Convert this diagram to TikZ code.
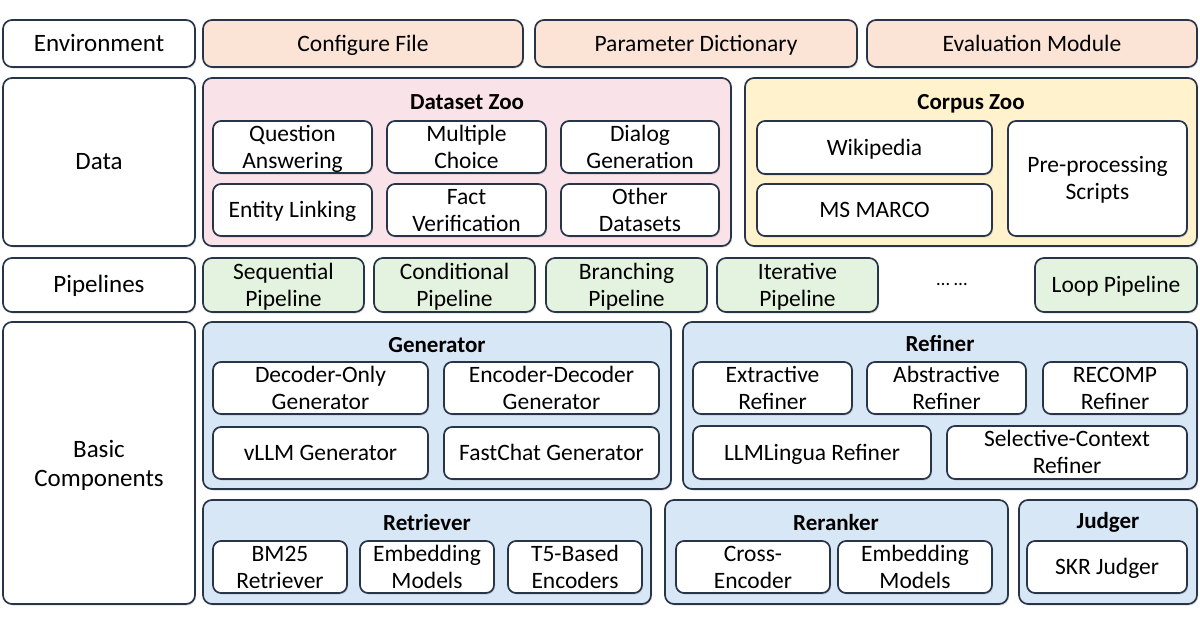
\documentclass[tikz,border=0pt]{standalone}
\usepackage{fontspec}
\setmainfont{Carlito}
\usetikzlibrary{shadows}
\definecolor{edgeclr}{RGB}{40,52,72}
\definecolor{envclr}{RGB}{251,227,214}
\definecolor{dsclr}{RGB}{250,226,233}
\definecolor{cpclr}{RGB}{255,242,204}
\definecolor{pipeclr}{RGB}{228,243,224}
\definecolor{compclr}{RGB}{216,231,246}

% one box from its top left to its bottom right corner
\newcommand{\blk}[7]{\node[#2, minimum width={#5-#3}, minimum height={#6-#4}]
	(#1) at ({(#3+#5)/2},{(#4+#6)/2}) {#7};}

\begin{document}
\begin{tikzpicture}[
		x=1pt, y=-1pt,
		every node/.style={font=\fontsize{23.5}{27}\selectfont, align=center, inner sep=0pt,
			text height=15pt, text depth=0pt},
		two/.style={text height=42pt},
		box/.style={draw=edgeclr, line width=1.7pt, rounded corners=9pt,
			drop shadow={shadow xshift=1.2pt, shadow yshift=-1.5pt, opacity=0.25}},
		side/.style={box, fill=white, font=\fontsize{25}{29}\selectfont},
		envitem/.style={box, fill=envclr},
		dszoo/.style={box, fill=dsclr},
		cpzoo/.style={box, fill=cpclr},
		pipeitem/.style={box, fill=pipeclr},
		comp/.style={box, fill=compclr},
		cell/.style={box, fill=white, rounded corners=8pt, drop shadow={opacity=0}},
		ttl/.style={font=\fontsize{23}{27}\selectfont\bfseries}
		]
		\useasboundingbox (0,0) rectangle (1200,630);
		% environment
		\blk{env}{side}{3}{20}{195}{67}{Environment}
		\blk{cfg}{envitem}{203}{20}{523}{67}{Configure File}
		\blk{par}{envitem}{535}{20}{857}{67}{Parameter Dictionary}
		\blk{eval}{envitem}{867}{20}{1197}{67}{Evaluation Module}
		% data
		\blk{data}{side}{3}{78}{195}{246}{Data}
		\blk{dz}{dszoo}{203}{78}{731}{246}{}
		\node[ttl] (dz-t) at (467,102) {Dataset Zoo};
		\blk{qa}{cell,two}{213}{121}{372}{173}{Question\\Answering}
		\blk{mc}{cell,two}{387}{121}{546}{173}{Multiple\\Choice}
		\blk{dg}{cell,two}{561}{121}{719}{173}{Dialog\\Generation}
		\blk{el}{cell}{213}{184}{372}{236}{Entity Linking}
		\blk{fv}{cell,two}{387}{184}{546}{236}{Fact\\Verification}
		\blk{od}{cell,two}{561}{184}{719}{236}{Other\\Datasets}
		\blk{cz}{cpzoo}{745}{78}{1197}{246}{}
		\node[ttl] (cz-t) at (971,102) {Corpus Zoo};
		\blk{wiki}{cell}{757}{121}{992}{174}{Wikipedia}
		\blk{msm}{cell}{757}{184}{992}{236}{MS MARCO}
		\blk{pre}{cell,two}{1008}{121}{1187}{236}{Pre-processing\\Scripts}
		% pipelines
		\blk{pipe}{side}{3}{258}{195}{312}{Pipelines}
		\blk{seq}{pipeitem,two}{203}{258}{364}{312}{Sequential\\Pipeline}
		\blk{cond}{pipeitem,two}{374}{258}{535}{312}{Conditional\\Pipeline}
		\blk{br}{pipeitem,two}{546}{258}{707}{312}{Branching\\Pipeline}
		\blk{it}{pipeitem,two}{717}{258}{878}{312}{Iterative\\Pipeline}
		\node[font=\fontsize{19}{22}\selectfont, text height=3pt] (dots) at (952,284) {\ldots\ \ldots};
		\blk{loop}{pipeitem}{1035}{258}{1197}{312}{Loop Pipeline}
		% basic components
		\blk{basic}{side}{3}{322}{195}{604}{}
		\node[font=\fontsize{25}{29}\selectfont, text height=46pt] (basic-t) at (99,463) {Basic\\Components};
		\blk{gen}{comp}{203}{322}{671}{489}{}
		\node[ttl] (gen-t) at (437,345) {Generator};
		\blk{dec}{cell,two}{213}{362}{428}{414}{Decoder-Only\\Generator}
		\blk{encdec}{cell,two}{444}{362}{659}{414}{Encoder-Decoder\\Generator}
		\blk{vllm}{cell}{213}{427}{428}{479}{vLLM Generator}
		\blk{fc}{cell}{444}{427}{659}{479}{FastChat Generator}
		\blk{ref}{comp}{683}{322}{1197}{489}{}
		\node[ttl] (ref-t) at (940,344) {Refiner};
		\blk{ext}{cell,two}{693}{362}{852}{414}{Extractive\\Refiner}
		\blk{abs}{cell,two}{867}{362}{1026}{414}{Abstractive\\Refiner}
		\blk{rec}{cell,two}{1043}{362}{1187}{414}{RECOMP\\Refiner}
		\blk{llml}{cell}{693}{426}{931}{479}{LLMLingua Refiner}
		\blk{sel}{cell,two}{947}{426}{1187}{479}{Selective-Context\\Refiner}
		\blk{ret}{comp}{203}{500}{651}{604}{}
		\node[ttl] (ret-t) at (427,523) {Retriever};
		\blk{bm}{cell,two}{213}{541}{347}{593}{BM25\\Retriever}
		\blk{emb}{cell,two}{360}{541}{494}{593}{Embedding\\Models}
		\blk{t5}{cell,two}{508}{541}{642}{593}{T5-Based\\Encoders}
		\blk{rr}{comp}{665}{500}{1008}{604}{}
		\node[ttl] (rr-t) at (836,523) {Reranker};
		\blk{ce}{cell,two}{676}{541}{830}{593}{Cross-\\Encoder}
		\blk{remb}{cell,two}{838}{541}{992}{593}{Embedding\\Models}
		\blk{jdg}{comp}{1019}{500}{1197}{604}{}
		\node[ttl] (jdg-t) at (1108,521) {Judger};
		\blk{skr}{cell}{1027}{541}{1187}{593}{SKR Judger}
	\end{tikzpicture}
\end{document}
